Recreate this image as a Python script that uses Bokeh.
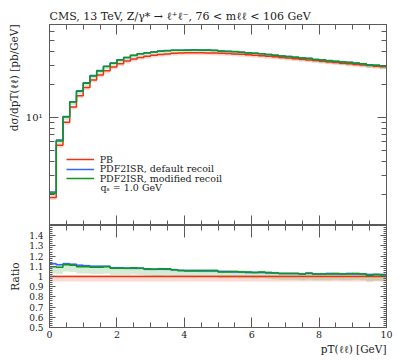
import numpy as np
from bokeh.plotting import figure
from bokeh.layouts import column
from bokeh.models import (Range1d, LogAxis, LinearAxis, FixedTicker, Legend,
                          LegendItem, Label, Title)
from bokeh.embed import file_html
from bokeh.resources import INLINE

# ---------------- data ----------------
edges = [0.0, 0.2, 0.4, 0.6, 0.8, 1.0, 1.2, 1.4, 1.6, 1.8,
         2.0, 2.2, 2.4, 2.6, 2.8, 3.0, 3.2, 3.4, 3.6, 3.8,
         4.0, 4.2, 4.4, 4.6, 4.8, 5.0, 5.2, 5.4, 5.6, 5.8,
         6.0, 6.2, 6.4, 6.6, 6.8, 7.0, 7.2, 7.4, 7.6, 7.8,
         8.0, 8.2, 8.4, 8.6, 8.8, 9.0, 9.2, 9.4, 9.6, 9.8, 10.0]

pb = [1.87, 5.60, 9.06, 12.45, 15.8, 18.75, 21.9, 24.3, 26.6, 28.8,
      30.9, 32.6, 34.0, 35.2, 36.1, 36.9, 37.5, 37.9, 38.3, 38.6,
      38.8, 38.9, 38.8, 38.7, 38.55, 38.4, 38.2, 37.9, 37.6, 37.2,
      36.85, 36.45, 36.05, 35.6, 35.2, 34.75, 34.3, 33.85, 33.4, 32.95,
      32.5, 32.05, 31.6, 31.2, 30.8, 30.4, 30.0, 29.65, 29.3, 28.95]

ratio_default = [1.125, 1.115, 1.125, 1.12, 1.11, 1.105, 1.10, 1.10, 1.10, 1.085,
                 1.085, 1.08, 1.08, 1.08, 1.07, 1.07, 1.075, 1.07, 1.065, 1.06,
                 1.06, 1.06, 1.055, 1.055, 1.055, 1.05, 1.05, 1.045, 1.045, 1.04,
                 1.04, 1.04, 1.035, 1.035, 1.03, 1.03, 1.03, 1.025, 1.035, 1.025,
                 1.025, 1.03, 1.025, 1.025, 1.03, 1.025, 1.025, 1.02, 1.02, 1.02]

ratio_modified = [1.095, 1.09, 1.115, 1.11, 1.095, 1.095, 1.09, 1.09, 1.095, 1.08,
                  1.08, 1.08, 1.085, 1.08, 1.075, 1.07, 1.07, 1.075, 1.065, 1.06,
                  1.055, 1.055, 1.06, 1.06, 1.06, 1.045, 1.045, 1.05, 1.045, 1.045,
                  1.04, 1.045, 1.04, 1.035, 1.03, 1.03, 1.03, 1.025, 1.03, 1.025,
                  1.025, 1.025, 1.03, 1.025, 1.025, 1.03, 1.025, 1.01, 1.02, 1.015]

# relative uncertainty bands (down, up)
err_pb = (0.05, 0.015)
err_default = (0.012, 0.012)
err_modified = (0.06, 0.01)

labels = ["PB", "PDF2ISR, default recoil", "PDF2ISR, modified recoil"]
qs_text = "q\u209b = 1.0 GeV"
title_text = "CMS, 13 TeV, Z/\u03b3* \u2192 \u2113\u207a\u2113\u207b, 76 < m\u2113\u2113 < 106 GeV"
ylabel_main = "d\u03c3/dpT(\u2113\u2113) [pb/GeV]"
ylabel_ratio = "Ratio"
xlabel = "pT(\u2113\u2113) [GeV]"

x_major = [0, 2, 4, 6, 8, 10]
x_minor = [0.5 * i for i in range(21)]
y_main_major = [10]
y_main_minor = [2, 3, 4, 5, 6, 7, 8, 9, 20, 30, 40, 50, 60, 70]
r_major = [0.5, 0.6, 0.7, 0.8, 0.9, 1.0, 1.1, 1.2, 1.3, 1.4]
r_minor = [round(0.5 + 0.02 * i, 2) for i in range(51)]

# ---------------- style ----------------
FONT = "DejaVu Serif"
GREY = "#5a5a5a"
TXT = "#222222"
RED, BLUE, GREEN = "#EE3311", "#3366FF", "#109618"
W = 398

pb_a = np.array(pb)
series = [
    (pb_a, np.ones_like(pb_a), err_pb, RED),
    (pb_a * np.array(ratio_default), np.array(ratio_default), err_default, BLUE),
    (pb_a * np.array(ratio_modified), np.array(ratio_modified), err_modified, GREEN),
]
e = np.array(edges)


def style_axis(ax, major_in, minor_in, show_labels, fs="10px"):
    ax.major_tick_in = major_in
    ax.major_tick_out = 0
    ax.minor_tick_in = minor_in
    ax.minor_tick_out = 0
    ax.axis_line_color = GREY
    ax.major_tick_line_color = GREY
    ax.minor_tick_line_color = GREY
    ax.major_tick_line_width = 1
    ax.minor_tick_line_width = 1
    ax.major_label_text_font = FONT
    ax.major_label_text_color = TXT
    if show_labels:
        ax.major_label_text_font_size = fs
    else:
        ax.major_label_text_font_size = "1px"
        ax.major_label_text_alpha = 0
        ax.major_label_standoff = 0


def side_title(text, align, standoff):
    return Title(text=text, align=align, standoff=standoff, text_font=FONT,
                 text_font_style="normal", text_font_size="10.5px",
                 text_color=TXT)


# ---------------- main panel ----------------
p = figure(width=W, height=225, x_range=Range1d(0, 10),
           y_range=Range1d(1.043, 70.1), y_axis_type="log",
           output_backend="svg", toolbar_location=None,
           min_border_left=49, min_border_right=12,
           min_border_top=24, min_border_bottom=0)
p.grid.visible = False
p.outline_line_color = GREY
p.background_fill_color = "white"

p.title.text = title_text
p.title.align = "left"
p.title.text_font = FONT
p.title.text_font_style = "normal"
p.title.text_font_size = "11px"
p.title.text_color = TXT
p.title.standoff = 4

p.xaxis.ticker = FixedTicker(ticks=x_major, minor_ticks=x_minor)
style_axis(p.xaxis[0], 10, 5, False)
p.yaxis.ticker = FixedTicker(ticks=y_main_major, minor_ticks=y_main_minor)
style_axis(p.yaxis[0], 9, 5, True)
p.yaxis.major_label_overrides = {10: "10\u00b9"}
p.yaxis.major_label_standoff = 7

top = LinearAxis(ticker=FixedTicker(ticks=x_major, minor_ticks=x_minor))
style_axis(top, 10, 5, False)
p.add_layout(top, "above")
right = LogAxis(ticker=FixedTicker(ticks=y_main_major, minor_ticks=y_main_minor))
style_axis(right, 9, 5, False)
p.add_layout(right, "right")
p.add_layout(side_title(ylabel_main, "right", 6), "left")

step_r = []
for vals, rat, (lo, hi), col in series:
    p.quad(left=e[:-1], right=e[1:], bottom=vals * (1 - lo), top=vals * (1 + hi),
           fill_color=col, fill_alpha=0.18, line_color=None)
for vals, rat, (lo, hi), col in series:
    r_ = p.step(x=e, y=np.append(vals, vals[-1]), mode="after",
                line_color=col, line_width=1.5)
    step_r.append(r_)

marks = []
for col in [RED, BLUE, GREEN]:
    marks.append(p.scatter(x=[], y=[], marker="dash", angle=np.pi / 2, size=9,
                           line_color=col, line_width=1.5))

# one legend per entry so that the row spacing can be set exactly
leg_y = [59.7, 50.3, 41.0]
for i in range(3):
    lg = Legend(items=[LegendItem(label=labels[i], renderers=[step_r[i], marks[i]])],
                location=(16.7, leg_y[i]), background_fill_alpha=0,
                border_line_alpha=0, padding=0, margin=0, spacing=0,
                glyph_width=28, glyph_height=12, label_height=12,
                label_standoff=6, label_text_font=FONT,
                label_text_font_size="9.5px", label_text_color=TXT)
    p.add_layout(lg)

p.add_layout(Label(x=1.513, y=2.30, text=qs_text, text_baseline="middle",
                   text_font=FONT, text_font_size="9.5px", text_color=TXT))

# ---------------- ratio panel ----------------
r = figure(width=W, height=135, x_range=p.x_range, y_range=Range1d(0.5, 1.5),
           output_backend="svg", toolbar_location=None,
           min_border_left=49, min_border_right=12,
           min_border_top=0, min_border_bottom=33)
r.grid.visible = False
r.outline_line_color = GREY

r.xaxis.ticker = FixedTicker(ticks=x_major, minor_ticks=x_minor)
style_axis(r.xaxis[0], 10, 5, True, fs="9.5px")
r.xaxis.major_label_standoff = 3

r.yaxis.ticker = FixedTicker(ticks=r_major, minor_ticks=r_minor)
style_axis(r.yaxis[0], 6, 3, True, fs="9px")
r.yaxis.major_label_overrides = {1.0: "1"}
r.yaxis.major_label_standoff = 6

rtop = LinearAxis(ticker=FixedTicker(ticks=x_major, minor_ticks=x_minor))
style_axis(rtop, 12, 5, False)
r.add_layout(rtop, "above")
rright = LinearAxis(ticker=FixedTicker(ticks=r_major, minor_ticks=r_minor))
style_axis(rright, 6, 3, False)
r.add_layout(rright, "right")
r.add_layout(side_title(ylabel_ratio, "center", 11), "left")
r.add_layout(side_title(xlabel, "right", 0), "below")

for vals, rat, (lo, hi), col in series:
    r.quad(left=e[:-1], right=e[1:], bottom=rat * (1 - lo), top=rat * (1 + hi),
           fill_color=col, fill_alpha=0.18, line_color=None)
for vals, rat, (lo, hi), col in series:
    r.step(x=e, y=np.append(rat, rat[-1]), mode="after",
           line_color=col, line_width=1.5)

layout = column(p, r, spacing=0)
open("out.html", "w").write(file_html(layout, INLINE))
